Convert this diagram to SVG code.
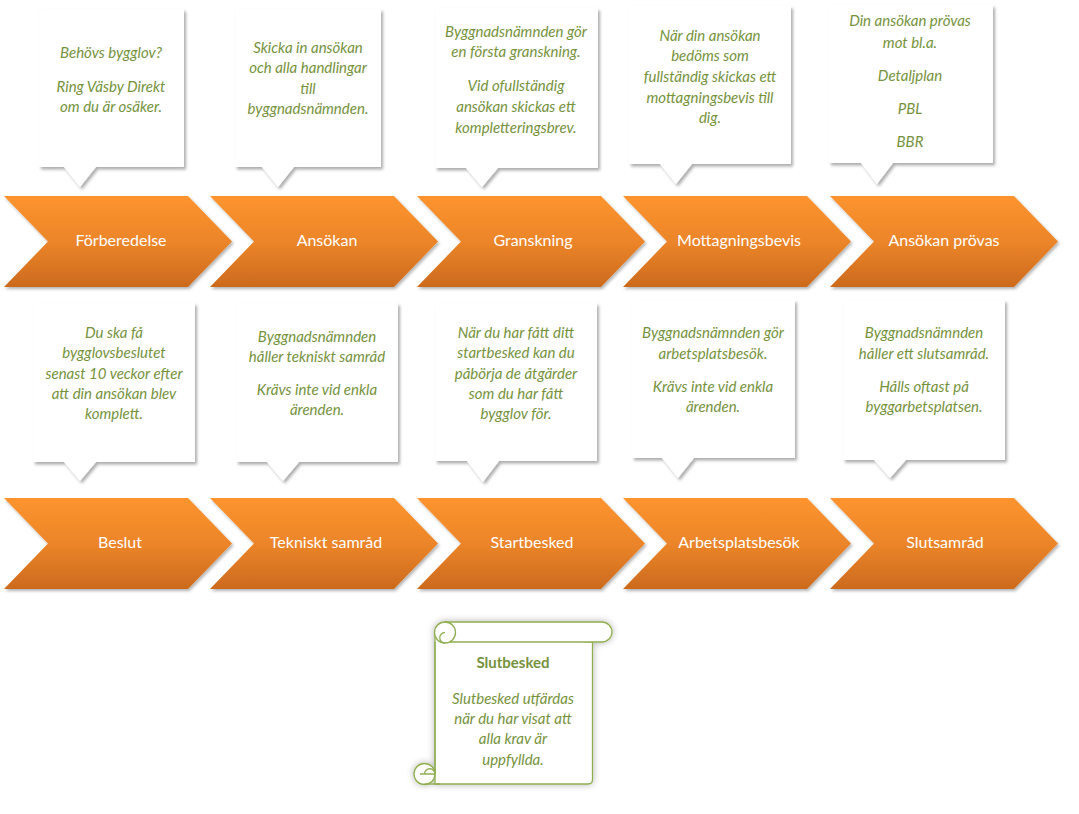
<svg xmlns="http://www.w3.org/2000/svg" xmlns:xlink="http://www.w3.org/1999/xlink" width="1079" height="814" viewBox="0 0 1079 814">
<defs>
<linearGradient id="orange" x1="0" y1="0" x2="0" y2="1">
<stop offset="0" stop-color="#FD942F"/>
<stop offset="0.5" stop-color="#EC8529"/>
<stop offset="1" stop-color="#CC6A1E"/>
</linearGradient>
<filter id="sh" x="-10%" y="-10%" width="125%" height="125%">
<feDropShadow dx="2" dy="2.5" stdDeviation="1.6" flood-color="#000" flood-opacity="0.32"/>
</filter>
<filter id="shc" x="-10%" y="-10%" width="125%" height="125%">
<feDropShadow dx="1.5" dy="2" stdDeviation="1.5" flood-color="#000" flood-opacity="0.3"/>
</filter>
<filter id="glow" x="-20%" y="-20%" width="140%" height="140%">
<feDropShadow dx="0" dy="0" stdDeviation="3.5" flood-color="#000" flood-opacity="0.3"/>
</filter>
<path id="chev" d="M0,0 H184 L228,45.5 L184,91 H0 L44,45.5 Z"/>
</defs>
<style>
.chev{fill:url(#orange);filter:url(#shc)}
.lbl{font-family:Lato,"Open Sans","Liberation Sans",sans-serif;font-size:16px;fill:#FFFFFF;text-anchor:middle}
.box{fill:#FFFFFF;filter:url(#sh)}
.t{font-family:Lato,"Open Sans","Liberation Sans",sans-serif;font-size:15px;font-style:italic;fill:#76923C;text-anchor:middle}
.tb{font-family:Lato,"Open Sans","Liberation Sans",sans-serif;font-size:15px;font-weight:bold;fill:#76923C;text-anchor:middle}
.sc{fill:#FFFFFF;stroke:#8FAE50;stroke-width:1.3;stroke-linejoin:round}
.scl{fill:none;stroke:#8FAE50;stroke-width:1.3}
</style>
<rect width="1079" height="814" fill="#FFFFFF"/>

<g id="connectors"></g>

<!-- Top row callouts -->
<g id="callout-forberedelse">
<path class="box" d="M39,9 H184 V167 H96 L80,187 L64,167 H39 Z"/>
<text class="t" x="111" y="58">Behövs bygglov?</text>
<text class="t" x="111" y="92">Ring Väsby Direkt</text>
<text class="t" x="111" y="112">om du är osäker.</text>
</g>
<g id="callout-ansokan">
<path class="box" d="M235,9 H381 V167 H294 L278,187 L262,167 H235 Z"/>
<text class="t" x="308" y="53">Skicka in ansökan</text>
<text class="t" x="308" y="73">och alla handlingar</text>
<text class="t" x="308" y="94">till</text>
<text class="t" x="308" y="114">byggnadsnämnden.</text>
</g>
<g id="callout-granskning">
<path class="box" d="M435,8 H598 V168 H498 L482,187 L466,168 H435 Z"/>
<text class="t" x="516" y="37">Byggnadsnämnden gör</text>
<text class="t" x="516" y="57">en första granskning.</text>
<text class="t" x="516" y="91">Vid ofullständig</text>
<text class="t" x="516" y="112">ansökan skickas ett</text>
<text class="t" x="516" y="133">kompletteringsbrev.</text>
</g>
<g id="callout-mottagningsbevis">
<path class="box" d="M629,6 H791 V164 H692 L676,184 L660,164 H629 Z"/>
<text class="t" x="710" y="41">När din ansökan</text>
<text class="t" x="710" y="61">bedöms som</text>
<text class="t" x="710" y="82">fullständig skickas ett</text>
<text class="t" x="710" y="103">mottagningsbevis till</text>
<text class="t" x="710" y="123">dig.</text>
</g>
<g id="callout-ansokan-provas">
<path class="box" d="M829,5 H993 V163 H893 L877,184 L861,163 H829 Z"/>
<text class="t" x="910" y="26">Din ansökan prövas</text>
<text class="t" x="910" y="48">mot bl.a.</text>
<text class="t" x="910" y="81">Detaljplan</text>
<text class="t" x="910" y="114">PBL</text>
<text class="t" x="910" y="147">BBR</text>
</g>

<!-- Top row chevrons -->
<g id="step-forberedelse"><use href="#chev" class="chev" x="4" y="196"/><text class="lbl" x="121" y="246">Förberedelse</text></g>
<g id="step-ansokan"><use href="#chev" class="chev" x="210" y="196"/><text class="lbl" x="327" y="246">Ansökan</text></g>
<g id="step-granskning"><use href="#chev" class="chev" x="417" y="196"/><text class="lbl" x="533" y="246">Granskning</text></g>
<g id="step-mottagningsbevis"><use href="#chev" class="chev" x="623" y="196"/><text class="lbl" x="739" y="246">Mottagningsbevis</text></g>
<g id="step-ansokan-provas"><use href="#chev" class="chev" x="830" y="196"/><text class="lbl" x="944" y="246">Ansökan prövas</text></g>

<!-- Bottom row callouts -->
<g id="callout-beslut">
<path class="box" d="M33,303 H195 V462 H96 L80,481 L64,462 H33 Z"/>
<text class="t" x="114" y="338">Du ska få</text>
<text class="t" x="114" y="358">bygglovsbeslutet</text>
<text class="t" x="114" y="379">senast 10 veckor efter</text>
<text class="t" x="114" y="399">att din ansökan blev</text>
<text class="t" x="114" y="419">komplett.</text>
</g>
<g id="callout-tekniskt-samrad">
<path class="box" d="M236,303 H398 V462 H299 L283,481 L267,462 H236 Z"/>
<text class="t" x="317" y="342">Byggnadsnämnden</text>
<text class="t" x="317" y="362">håller tekniskt samråd</text>
<text class="t" x="317" y="395">Krävs inte vid enkla</text>
<text class="t" x="317" y="415">ärenden.</text>
</g>
<g id="callout-startbesked">
<path class="box" d="M435,303 H597 V461 H499 L483,482 L467,461 H435 Z"/>
<text class="t" x="516" y="338">När du har fått ditt</text>
<text class="t" x="516" y="358">startbesked kan du</text>
<text class="t" x="516" y="379">påbörja de åtgärder</text>
<text class="t" x="516" y="399">som du har fått</text>
<text class="t" x="516" y="419">bygglov för.</text>
</g>
<g id="callout-arbetsplatsbesok">
<path class="box" d="M632,300 H795 V458 H694 L678,478 L662,458 H632 Z"/>
<text class="t" x="713" y="338">Byggnadsnämnden gör</text>
<text class="t" x="713" y="359">arbetsplatsbesök.</text>
<text class="t" x="713" y="392">Krävs inte vid enkla</text>
<text class="t" x="713" y="412">ärenden.</text>
</g>
<g id="callout-slutsamrad">
<path class="box" d="M843,300 H1005 V460 H906 L890,478 L874,460 H843 Z"/>
<text class="t" x="924" y="338">Byggnadsnämnden</text>
<text class="t" x="924" y="359">håller ett slutsamråd.</text>
<text class="t" x="924" y="392">Hålls oftast på</text>
<text class="t" x="924" y="412">byggarbetsplatsen.</text>
</g>

<!-- Bottom row chevrons -->
<g id="step-beslut"><use href="#chev" class="chev" x="4" y="498"/><text class="lbl" x="120" y="548">Beslut</text></g>
<g id="step-tekniskt-samrad"><use href="#chev" class="chev" x="210" y="498"/><text class="lbl" x="326" y="548">Tekniskt samråd</text></g>
<g id="step-startbesked"><use href="#chev" class="chev" x="417" y="498"/><text class="lbl" x="532" y="548">Startbesked</text></g>
<g id="step-arbetsplatsbesok"><use href="#chev" class="chev" x="623" y="498"/><text class="lbl" x="739" y="548">Arbetsplatsbesök</text></g>
<g id="step-slutsamrad"><use href="#chev" class="chev" x="830" y="498"/><text class="lbl" x="945" y="548">Slutsamråd</text></g>

<!-- Scroll -->
<g id="slutbesked">
<g filter="url(#glow)">
<path class="sc" d="M435,632 V784 H588 Q592.5,784 592.5,779.5 V642 Z"/>
<path class="sc" d="M445,622 H602 A10,10 0 0 1 602,642 H445 Z"/>
<circle class="sc" cx="445" cy="632.5" r="10.5"/>
<circle class="sc" cx="424.5" cy="774" r="10.5"/>
</g>
<path class="scl" d="M435,642 V774"/>
<path class="scl" d="M424.5,784 H440"/>
<path class="scl" d="M445,632.5 A5.25,5.25 0 0 0 445,643"/>
<path class="scl" d="M424.5,774 A5.25,5.25 0 0 1 435,774 M420,774 H435"/>
<text class="tb" x="513" y="668">Slutbesked</text>
<text class="t" x="513" y="704">Slutbesked utfärdas</text>
<text class="t" x="513" y="724">när du har visat att</text>
<text class="t" x="513" y="744">alla krav är</text>
<text class="t" x="513" y="765">uppfyllda.</text>
</g>
</svg>
